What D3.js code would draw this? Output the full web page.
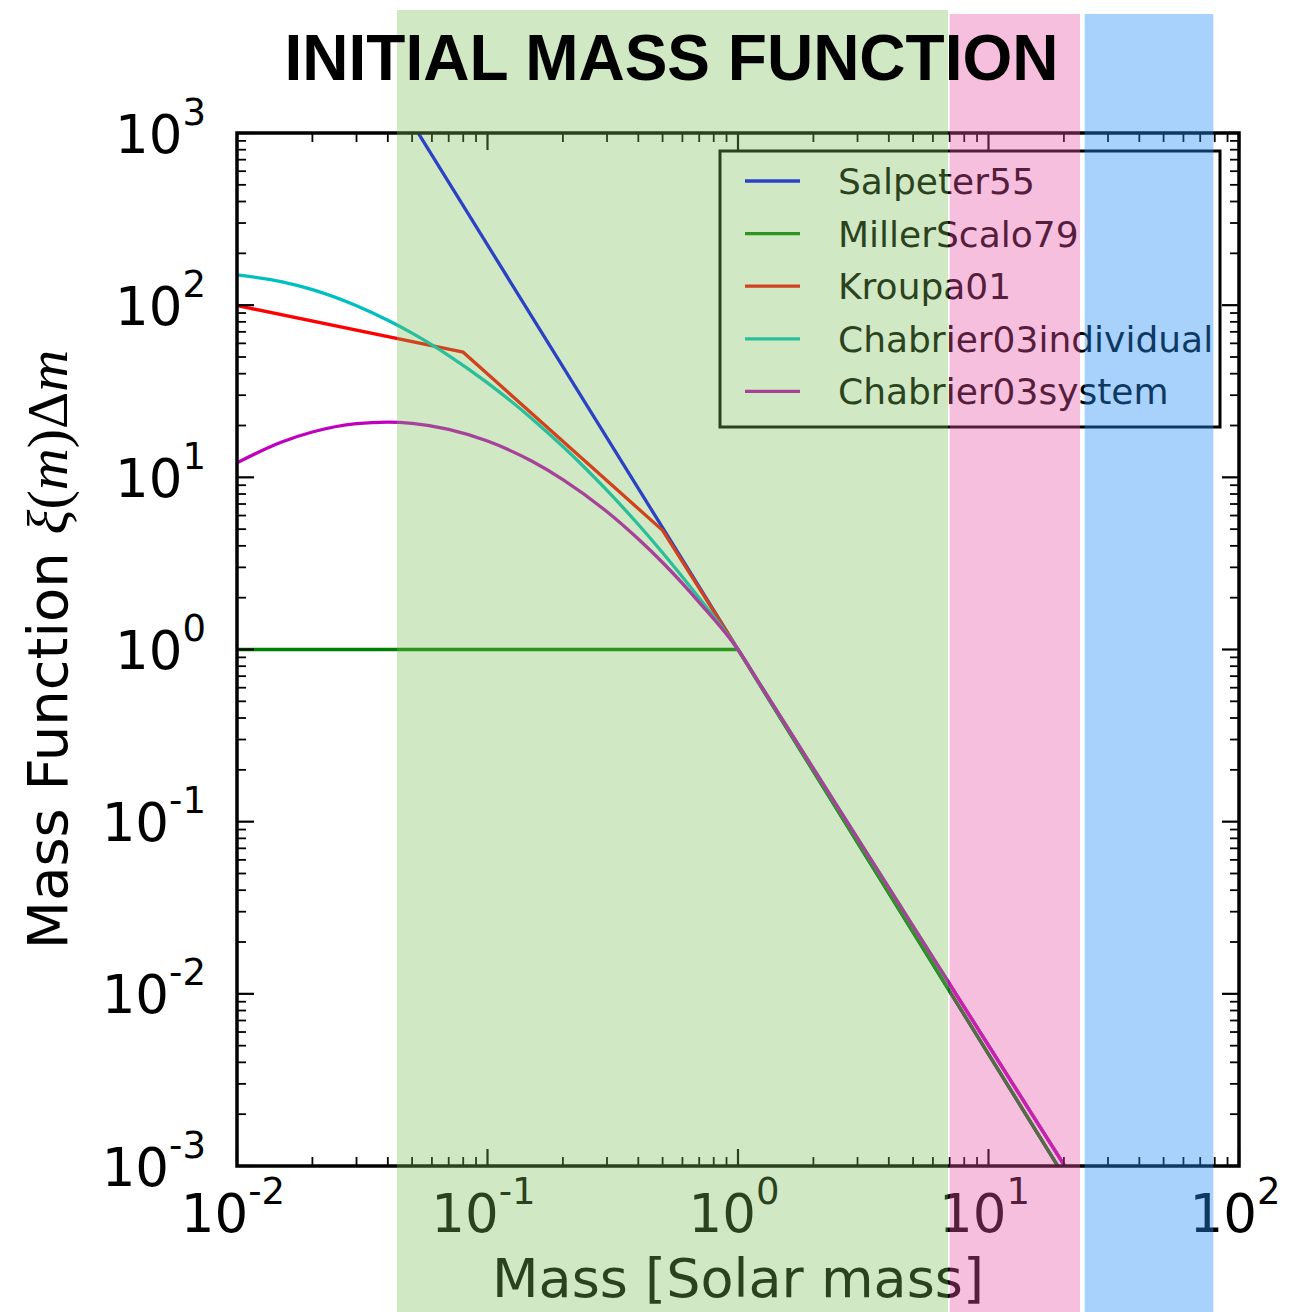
<!DOCTYPE html>
<html>
<head>
<meta charset="utf-8">
<script src="https://cdn.jsdelivr.net/npm/d3@7"></script>
<style>
  html, body { margin: 0; padding: 0; background: #fff; }
  svg { display: block; }
</style>
</head>
<body>
<svg id="chart" width="1301" height="1312"></svg>
<script>
// ---- data -------------------------------------------------------------
const seriesNames = ["Salpeter55", "MillerScalo79", "Kroupa01", "Chabrier03individual", "Chabrier03system"];
const seriesColors = ["#0000ff", "#008000", "#ff0000", "#00bfbf", "#bf00bf"];

// mass in solar masses, value = xi(m) * delta m (normalised to 1 at 1 Msun)
const salpeterMass  = [0.05, 0.5, 1, 100];
const salpeterValue = [1141, 5.10, 1, 1.995e-5];

const millerScaloMass  = [0.01, 1, 10, 100];
const millerScaloValue = [1, 1, 4.467e-3, 1.995e-5];

const kroupaMass  = [0.01, 0.08, 0.5, 1, 100];
const kroupaValue = [99.5, 53.3, 4.92, 1, 2.512e-5];

const chabrierMass = [0.01, 0.015, 0.02, 0.03, 0.04, 0.05, 0.07, 0.1, 0.15, 0.2, 0.3, 0.4, 0.5, 0.7,
                      1, 1.2, 1.5, 2, 3, 5, 10, 20, 50, 100];
const chabrierIndividualValue = [150, 137, 123, 99.2, 81.7, 68.8, 51.0, 35.4, 22.0, 15.1, 8.39, 5.32, 3.65, 1.99,
                                 1, 0.6575, 0.3936, 0.2031, 0.0799, 0.02468, 5.012e-3, 1.018e-3, 1.237e-4, 2.512e-5];
const chabrierSystemValue = [12.15, 15.99, 18.33, 20.49, 20.92, 20.57, 18.99, 16.24, 12.43, 9.70, 6.31, 4.38, 3.20, 1.88,
                             1, 0.6575, 0.3936, 0.2031, 0.0799, 0.02468, 5.012e-3, 1.018e-3, 1.237e-4, 2.512e-5];

const xTickExponents = [-2, -1, 0, 1, 2];
const yTickExponents = [-3, -2, -1, 0, 1, 2, 3];

// highlighted mass ranges (solar masses)
const bandStart = [0.0435, 7.0, 24.2];
const bandEnd   = [6.9, 23.2, 79];
const bandColors = ["#7cbd56", "#e752a3", "#268ef5"];
const bandOpacity = [0.35, 0.37, 0.4];

const titleText = "INITIAL MASS FUNCTION";

// ---- layout -----------------------------------------------------------
const W = 1301, H = 1312;
const plot = { left: 237, right: 1239, top: 133, bottom: 1166 };
const sansFont = "'DejaVu Sans', sans-serif";

const x = d3.scaleLog().domain([1e-2, 1e2]).range([plot.left, plot.right]);
const y = d3.scaleLog().domain([1e-3, 1e3]).range([plot.bottom, plot.top]);

const svg = d3.select("#chart");
svg.append("rect").attr("width", W).attr("height", H).attr("fill", "#fff");

svg.append("defs").append("clipPath").attr("id", "plotClip")
  .append("rect")
  .attr("x", plot.left).attr("y", plot.top)
  .attr("width", plot.right - plot.left).attr("height", plot.bottom - plot.top);

const zip = (ms, vs) => ms.map((m, i) => [m, vs[i]]);
const series = [
  { points: zip(salpeterMass, salpeterValue), smooth: false },
  { points: zip(millerScaloMass, millerScaloValue), smooth: false },
  { points: zip(kroupaMass, kroupaValue), smooth: false },
  { points: zip(chabrierMass, chabrierIndividualValue), smooth: true },
  { points: zip(chabrierMass, chabrierSystemValue), smooth: true }
];
series.forEach((s, i) => { s.name = seriesNames[i]; s.color = seriesColors[i]; });

const straight = d3.line().x(d => x(d[0])).y(d => y(d[1]));
const curved = d3.line().x(d => x(d[0])).y(d => y(d[1])).curve(d3.curveMonotoneX);

// ---- curves -----------------------------------------------------------
const lineLayer = svg.append("g").attr("clip-path", "url(#plotClip)");
series.forEach(s => {
  lineLayer.append("path")
    .attr("d", (s.smooth ? curved : straight)(s.points))
    .attr("fill", "none")
    .attr("stroke", s.color)
    .attr("stroke-width", 3.3)
    .attr("stroke-linejoin", "round");
});

// ---- frame and ticks ---------------------------------------------------
const axisLayer = svg.append("g").attr("stroke", "#000");
const majorLen = 17, minorLen = 9;

function minorValues(exps) {
  const out = [];
  for (let e = exps[0]; e < exps[exps.length - 1]; e++) {
    for (let k = 2; k <= 9; k++) out.push(k * Math.pow(10, e));
  }
  return out;
}
const xMajor = xTickExponents.map(e => Math.pow(10, e));
const yMajor = yTickExponents.map(e => Math.pow(10, e));
const xMinor = minorValues(xTickExponents);
const yMinor = minorValues(yTickExponents);

function xTicks(vals, len, sw) {
  vals.forEach(v => {
    const px = x(v);
    axisLayer.append("line").attr("x1", px).attr("x2", px)
      .attr("y1", plot.bottom).attr("y2", plot.bottom - len).attr("stroke-width", sw);
    axisLayer.append("line").attr("x1", px).attr("x2", px)
      .attr("y1", plot.top).attr("y2", plot.top + len).attr("stroke-width", sw);
  });
}
function yTicks(vals, len, sw) {
  vals.forEach(v => {
    const py = y(v);
    axisLayer.append("line").attr("y1", py).attr("y2", py)
      .attr("x1", plot.left).attr("x2", plot.left + len).attr("stroke-width", sw);
    axisLayer.append("line").attr("y1", py).attr("y2", py)
      .attr("x1", plot.right).attr("x2", plot.right - len).attr("stroke-width", sw);
  });
}
xTicks(xMinor, minorLen, 1.8);
yTicks(yMinor, minorLen, 1.8);
xTicks(xMajor, majorLen, 2.2);
yTicks(yMajor, majorLen, 2.2);

axisLayer.append("rect")
  .attr("x", plot.left).attr("y", plot.top)
  .attr("width", plot.right - plot.left).attr("height", plot.bottom - plot.top)
  .attr("fill", "none").attr("stroke-width", 3.5);

// ---- tick labels -------------------------------------------------------
const labelLayer = svg.append("g").style("font-family", sansFont).attr("fill", "#000");
const supText = e => (e < 0 ? "-" : "") + Math.abs(e);

xTickExponents.forEach(e => {
  const t = labelLayer.append("text")
    .attr("x", x(Math.pow(10, e)) - 4).attr("y", 1232)
    .attr("text-anchor", "middle").style("font-size", "53px");
  t.append("tspan").text("10");
  t.append("tspan").attr("dy", -28).style("font-size", "37px").text(supText(e));
});

yTickExponents.forEach(e => {
  const t = labelLayer.append("text")
    .attr("x", 206).attr("y", y(Math.pow(10, e)) + 19.5)
    .attr("text-anchor", "end").style("font-size", "53px");
  t.append("tspan").text("10");
  t.append("tspan").attr("dy", -28).style("font-size", "37px").text(supText(e));
});

// ---- axis titles -------------------------------------------------------
labelLayer.append("text")
  .attr("x", (plot.left + plot.right) / 2).attr("y", 1297)
  .attr("text-anchor", "middle").style("font-size", "54px")
  .text("Mass [Solar mass]");

const yTitle = labelLayer.append("text")
  .attr("transform", `translate(67,${(plot.top + plot.bottom) / 2}) rotate(-90)`)
  .attr("text-anchor", "middle").style("font-size", "56px");
yTitle.append("tspan").text("Mass Function ");
const mathPart = [
  { s: "\u03be", it: true }, { s: "(", it: false }, { s: "m", it: true },
  { s: ")", it: false }, { s: "\u0394", it: false }, { s: "m", it: true }
];
mathPart.forEach(p => {
  yTitle.append("tspan")
    .style("font-family", "'Liberation Serif', serif")
    .style("font-style", p.it ? "italic" : "normal")
    .style("font-size", "58px")
    .text(p.s);
});

// ---- legend ------------------------------------------------------------
const legend = svg.append("g");
legend.append("rect")
  .attr("x", 720).attr("y", 151).attr("width", 500).attr("height", 276)
  .attr("fill", "#fff").attr("stroke", "#000").attr("stroke-width", 3);
series.forEach((s, i) => {
  const ly = 181 + i * 52.6;
  legend.append("line").attr("x1", 745).attr("x2", 800).attr("y1", ly).attr("y2", ly)
    .attr("stroke", s.color).attr("stroke-width", 3.3);
  legend.append("text").attr("x", 838).attr("y", ly + 13)
    .style("font-family", sansFont).style("font-size", "36px").attr("fill", "#000")
    .text(s.name);
});

// ---- highlighted mass ranges ------------------------------------------
const bandTop = [10, 14, 14];
bandStart.forEach((m0, i) => {
  svg.append("rect")
    .attr("x", x(m0)).attr("y", bandTop[i])
    .attr("width", x(bandEnd[i]) - x(m0)).attr("height", H - bandTop[i])
    .attr("fill", bandColors[i]).attr("fill-opacity", bandOpacity[i]);
});

// ---- title -------------------------------------------------------------
svg.append("text")
  .attr("x", 671.5).attr("y", 80)
  .attr("text-anchor", "middle")
  .style("font-family", "'Liberation Sans', Arial, sans-serif")
  .style("font-weight", "bold").style("font-size", "64px")
  .attr("fill", "#000")
  .text(titleText);
</script>
</body>
</html>
